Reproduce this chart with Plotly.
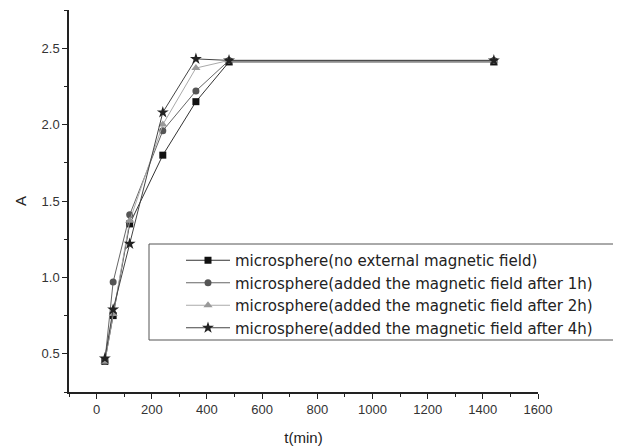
import plotly.graph_objects as go

t = [30, 60, 120, 240, 360, 480, 1440]
a_none = [0.45, 0.75, 1.35, 1.80, 2.15, 2.41, 2.41]
a_1h = [0.45, 0.97, 1.41, 1.96, 2.22, 2.42, 2.42]
a_2h = [0.45, 0.76, 1.37, 2.00, 2.37, 2.42, 2.42]
a_4h = [0.47, 0.79, 1.22, 2.08, 2.43, 2.42, 2.42]

names = [
    "microsphere(no external magnetic field)",
    "microsphere(added the magnetic field after 1h)",
    "microsphere(added the magnetic field after 2h)",
    "microsphere(added the magnetic field after 4h)",
]
series = [a_none, a_1h, a_2h, a_4h]
symbols = ["square", "circle", "triangle-up", "star"]
mcolors = ["#111111", "#555555", "#999999", "#222222"]
lcolors = ["#333333", "#666666", "#aaaaaa", "#444444"]
msizes = [7, 7, 8, 9]

fig = go.Figure()
for y, n, s, mc, lc, ms in zip(series, names, symbols, mcolors, lcolors, msizes):
    fig.add_trace(go.Scatter(
        x=t, y=y, name=n, mode="lines+markers",
        line=dict(color=lc, width=1),
        marker=dict(symbol=s, color=mc, size=ms, line=dict(width=0)),
    ))

# page offset (browser body margin)
OFF = 8
W, H = 621 - OFF, 446 - OFF
L, T = 69 - OFF, 10 - OFF
R = W - (538 - OFF)
B = H - (392 - OFF)
pw, ph = W - L - R, H - T - B

def px2x(p):
    return (p - OFF - L) / pw

def py2y(p):
    return (H - B - (p - OFF)) / ph

fig.add_shape(type="rect", xref="paper", yref="paper",
              x0=px2x(149), x1=px2x(619), y0=py2y(340), y1=py2y(244),
              line=dict(color="#555555", width=1), fillcolor="rgba(0,0,0,0)")

axis_common = dict(
    showline=True, linecolor="#222222", linewidth=1.5, showgrid=False, zeroline=False,
    ticks="outside", ticklen=5, tickwidth=1.2, tickcolor="#222222",
    tickfont=dict(family="Liberation Sans, Arial", size=13, color="#333333"),
)
minor_common = dict(ticks="outside", ticklen=3, tickwidth=1, tickcolor="#222222")

fig.update_layout(
    width=W, height=H,
    margin=dict(l=L, r=R, t=T, b=B, autoexpand=False),
    plot_bgcolor="white", paper_bgcolor="white",
    font=dict(family="Liberation Sans, Arial", color="#222222"),
    xaxis=dict(range=[-100, 1600], tick0=0, dtick=200,
               minor=dict(tick0=100, dtick=200, **minor_common),
               title=dict(text="t(min)", font=dict(size=15), standoff=17),
               **axis_common),
    yaxis=dict(range=[0.25, 2.75], tick0=0.5, dtick=0.5, tickformat=".1f",
               minor=dict(tick0=0.25, dtick=0.5, **minor_common),
               title=dict(text="A", font=dict(size=15), standoff=11),
               **axis_common),
    legend=dict(x=px2x(181), y=py2y(244), xanchor="left", yanchor="top",
                bgcolor="rgba(0,0,0,0)", borderwidth=0,
                font=dict(family="DejaVu Sans", size=15, color="#222222"),
                itemwidth=44, tracegroupgap=0),
    showlegend=True,
)

fig.write_html("out.html")
